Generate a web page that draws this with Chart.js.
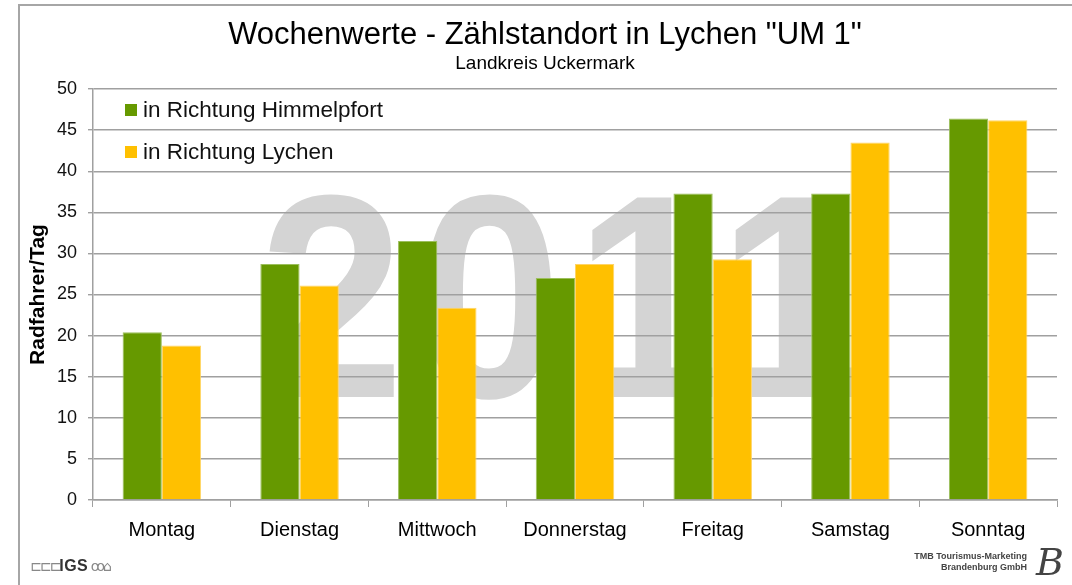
<!DOCTYPE html>
<html>
<head>
<meta charset="utf-8">
<style>
  body { margin: 0; background: #fff; font-family: "Liberation Sans", Arial, sans-serif; }
  #wrap { position: relative; width: 1072px; height: 585px; overflow: hidden; }
  #frame { position: absolute; left: 18px; top: 4px; width: 1060px; height: 600px;
           border-top: 2px solid #a6a6a6; border-left: 2px solid #a6a6a6; }
  #myChart { position: absolute; left: 0; top: 0; }
  .head { position: absolute; left: 18px; right: 0; text-align: center; color: #000; white-space: nowrap; }
  #title { top: 15px; font-size: 31px; line-height: 38px; }
  #subtitle { top: 52px; font-size: 19px; line-height: 22px; }
  #igs { position: absolute; left: 30px; top: 557px; font-size: 16px; color: #333; white-space: nowrap; }
  #igs .thin { color: #888; font-family: "DejaVu Sans"; font-size: 14px; letter-spacing: -2px; }
  #igs b { font-family: "Liberation Sans"; letter-spacing: 0.5px; }
  #tmb { position: absolute; right: 45px; top: 551px; font-size: 9px; font-weight: bold; color: #444;
         text-align: right; line-height: 11px; font-family: "Liberation Sans", Arial, sans-serif; }
  #tmbB { position: absolute; right: 8px; top: 540px; font-size: 38px; font-style: italic;
          font-family: "DejaVu Serif", serif; color: #444; }
</style>
</head>
<body>
<div id="wrap">
  <div id="frame"></div>
  <canvas id="myChart" width="1072" height="585"></canvas>
  <div class="head" id="title">Wochenwerte - Zählstandort in Lychen "UM 1"</div>
  <div class="head" id="subtitle">Landkreis Uckermark</div>
  <div id="igs"><span class="thin">⊏⊏⊏</span><b>IGS</b><span class="thin"> ꝏ⌂</span></div>
  <div id="tmb">TMB Tourismus-Marketing<br>Brandenburg GmbH</div>
  <div id="tmbB">B</div>
</div>

<script src="https://cdn.jsdelivr.net/npm/chart.js"></script>
<script>
  // Daten
  const days = ['Montag', 'Dienstag', 'Mittwoch', 'Donnerstag', 'Freitag', 'Samstag', 'Sonntag'];
  const himmelpfort = [20.4, 28.7, 31.5, 27.0, 37.3, 37.3, 46.4];
  const lychen = [18.8, 26.1, 23.4, 28.7, 29.3, 43.5, 46.2];
  const seriesNames = ['in Richtung Himmelpfort', 'in Richtung Lychen'];
  const yTicks = [0, 5, 10, 15, 20, 25, 30, 35, 40, 45, 50];

  const FONT = '"Liberation Sans", Arial, sans-serif';

  // Wasserzeichen "2011" hinter dem Gitter
  const watermark = {
    id: 'watermark',
    beforeDraw(chart) {
      const ctx = chart.ctx;
      ctx.save();
      ctx.translate(259, 397);
      ctx.scale(0.9, 1);
      ctx.fillStyle = '#d4d4d4';
      ctx.font = 'bold 290px ' + FONT;
      if ('letterSpacing' in ctx) ctx.letterSpacing = '14px';
      ctx.textBaseline = 'alphabetic';
      ctx.textAlign = 'left';
      ctx.fillText('2011', 0, 0);
      ctx.restore();
    }
  };

  // Legende im Diagramm oben links
  const innerLegend = {
    id: 'innerLegend',
    afterDatasetsDraw(chart) {
      const ctx = chart.ctx;
      ctx.save();
      ctx.font = '22.5px ' + FONT;
      ctx.textBaseline = 'middle';
      chart.data.datasets.forEach((ds, i) => {
        const y = 110 + i * 42;
        ctx.fillStyle = ds.backgroundColor;
        ctx.fillRect(125, y - 6, 12, 12);
        ctx.fillStyle = '#111';
        ctx.fillText(ds.label, 143, y + 1);
      });
      ctx.restore();
    }
  };

  new Chart(document.getElementById('myChart').getContext('2d'), {
    type: 'bar',
    data: {
      labels: days,
      datasets: [
        {
          label: seriesNames[0],
          data: himmelpfort,
          backgroundColor: '#669900',
          borderColor: '#9cbf5c',
          borderWidth: 1,
          categoryPercentage: 0.57,
          barPercentage: 1.0
        },
        {
          label: seriesNames[1],
          data: lychen,
          backgroundColor: '#ffc000',
          borderColor: '#ffd466',
          borderWidth: 1,
          categoryPercentage: 0.57,
          barPercentage: 1.0
        }
      ]
    },
    options: {
      responsive: false,
      animation: false,
      layout: { padding: { left: 18, right: 15, top: 89, bottom: 0 } },
      plugins: {
        legend: { display: false },
        tooltip: { enabled: false }
      },
      scales: {
        x: {
          grid: { display: true, drawOnChartArea: false, tickLength: 7, color: '#a0a0a0', offset: true },
          border: { color: '#a0a0a0', width: 1.5 },
          ticks: { color: '#000', padding: 11, font: { family: FONT, size: 20 } },
          afterFit(scale) { scale.height = 85; }
        },
        y: {
          min: 0,
          max: 50,
          afterBuildTicks(scale) { scale.ticks = yTicks.map(v => ({ value: v })); },
          grid: { color: '#a0a0a0', lineWidth: 1.4, tickLength: 5 },
          border: { color: '#a0a0a0', width: 1.5 },
          ticks: { color: '#111', padding: 11, font: { family: FONT, size: 18 } },
          title: {
            display: true,
            text: 'Radfahrer/Tag',
            color: '#000',
            font: { family: FONT, size: 21, weight: 'bold' },
            padding: { top: 8, bottom: 0 }
          },
          afterFit(scale) { scale.width = 75; }
        }
      }
    },
    plugins: [watermark, innerLegend]
  });
</script>
</body>
</html>
